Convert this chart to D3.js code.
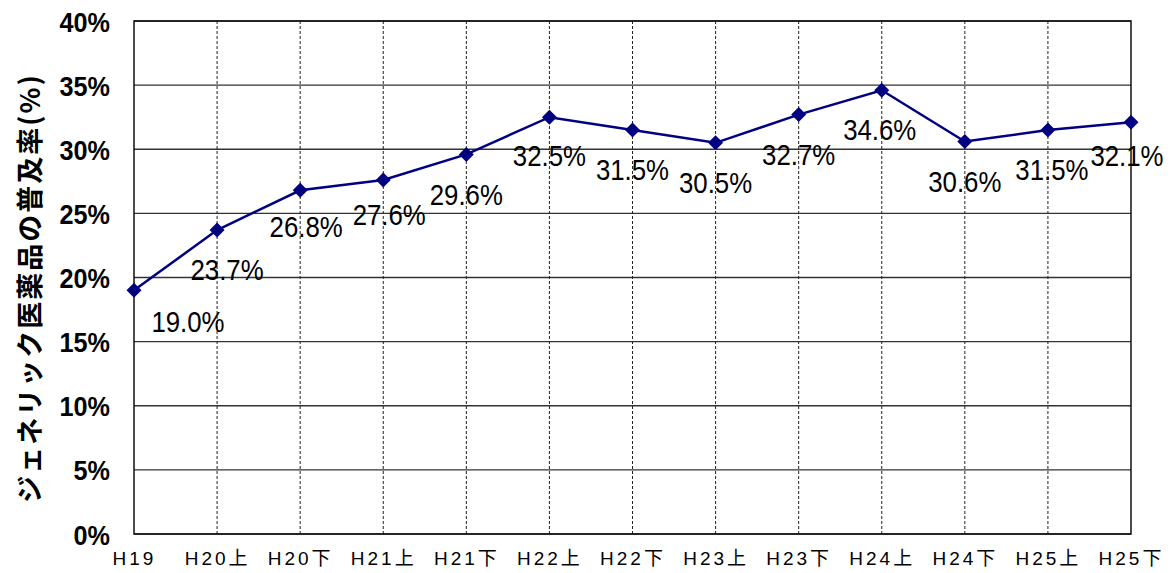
<!DOCTYPE html>
<html>
<head>
<meta charset="utf-8">
<script src="https://d3js.org/d3.v7.min.js"></script>
<style>
  body { margin: 0; background: #fff; }
  svg { display: block; }
</style>
</head>
<body>
<div id="chart"></div>
<script>
  // data
  const periods = ['H19', 'H20上', 'H20下', 'H21上', 'H21下', 'H22上', 'H22下', 'H23上', 'H23下', 'H24上', 'H24下', 'H25上', 'H25下']
  const rates = [19.0, 23.7, 26.8, 27.6, 29.6, 32.5, 31.5, 30.5, 32.7, 34.6, 30.6, 31.5, 32.1]
  const yTicks = [0, 5, 10, 15, 20, 25, 30, 35, 40]
  const yTitle = 'ジェネリック医薬品の普及率(%)'

  // hand placed label nudges, like the original
  const labelDx = [54, 10, 6, 6, 0, 0, 0, 0, 0, -2, 0, 4, -4]
  const labelDy = [42, 50, 47, 45, 51, 49, 50, 50, 50, 50, 50, 50, 44]

  const W = 1174, H = 573
  const m = {t: 21, r: 43, b: 39, l: 134}
  const w = W - m.l - m.r
  const h = H - m.t - m.b

  const svg = d3.select('#chart').append('svg')
    .attr('width', W)
    .attr('height', H)

  const g = svg.append('g')
    .attr('transform', 'translate(' + m.l + ',' + m.t + ')')

  const x = d3.scalePoint().domain(periods).range([0, w])
  const y = d3.scaleLinear().domain([0, 40]).range([h, 0])

  const numFont = '"Liberation Sans", Arial, sans-serif'

  // squeeze glyphs horizontally, the original font is a narrow gothic
  function squeeze(sel, k) {
    sel.each(function() {
      const len = this.getComputedTextLength()
      d3.select(this)
        .attr('textLength', len * k)
        .attr('lengthAdjust', 'spacingAndGlyphs')
    })
  }

  // horizontal grid
  g.append('g')
    .selectAll('line')
    .data(yTicks)
    .enter().append('line')
    .attr('x1', 0).attr('x2', w)
    .attr('y1', d => y(d)).attr('y2', d => y(d))
    .style('stroke', '#333')
    .style('stroke-width', 1.3)

  // vertical dashed grid
  g.append('g')
    .selectAll('line')
    .data(periods.slice(1, -1))
    .enter().append('line')
    .attr('x1', d => x(d)).attr('x2', d => x(d))
    .attr('y1', 0).attr('y2', h)
    .style('stroke', '#222')
    .style('stroke-width', 1)
    .style('stroke-dasharray', '3,2')

  // frame
  g.append('rect')
    .attr('width', w).attr('height', h)
    .style('fill', 'none')
    .style('stroke', '#111')
    .style('stroke-width', 1.5)

  // y axis labels
  const yAxis = g.append('g')
    .call(d3.axisLeft(y).tickValues(yTicks).tickSize(0).tickPadding(24).tickFormat(d => d + '%'))
  yAxis.select('.domain').remove()
  yAxis.selectAll('text')
    .attr('dy', '0.36em')
    .style('font-family', numFont)
    .style('font-weight', 'bold')
    .style('font-size', '28px')
    .style('fill', '#000')
    .call(squeeze, 0.9)

  // x axis labels
  const xAxis = g.append('g')
    .attr('transform', 'translate(0,' + h + ')')
    .call(d3.axisBottom(x).tickSize(0).tickPadding(18))
  xAxis.select('.domain').remove()
  xAxis.selectAll('text')
    .style('font-family', '"Liberation Sans", "Noto Sans CJK JP", sans-serif')
    .style('font-size', '19px')
    .style('letter-spacing', '3px')
    .style('fill', '#000')

  // line
  const line = d3.line()
    .x((d, i) => x(periods[i]))
    .y(d => y(d))

  g.append('path')
    .datum(rates)
    .attr('d', line)
    .style('fill', 'none')
    .style('stroke', '#000080')
    .style('stroke-width', 2.5)

  // diamond markers
  const r = 7.5
  g.append('g')
    .selectAll('path')
    .data(rates)
    .enter().append('path')
    .attr('transform', (d, i) => 'translate(' + x(periods[i]) + ',' + y(d) + ')')
    .attr('d', 'M0,' + (-r) + 'L' + r + ',0L0,' + r + 'L' + (-r) + ',0Z')
    .style('fill', '#000080')

  // data labels
  g.append('g')
    .selectAll('text')
    .data(rates)
    .enter().append('text')
    .attr('x', (d, i) => x(periods[i]) + labelDx[i])
    .attr('y', (d, i) => y(d) + labelDy[i])
    .attr('text-anchor', 'middle')
    .style('font-family', numFont)
    .style('font-size', '30px')
    .style('fill', '#000')
    .text(d => d.toFixed(1) + '%')
    .call(squeeze, 0.86)

  // y title
  svg.append('text')
    .attr('transform', 'translate(40,288) rotate(-90)')
    .attr('text-anchor', 'middle')
    .style('font-family', '"Noto Sans CJK JP", sans-serif')
    .style('font-weight', 'bold')
    .style('font-size', '27px')
    .style('letter-spacing', '2px')
    .text(yTitle)
</script>
</body>
</html>
